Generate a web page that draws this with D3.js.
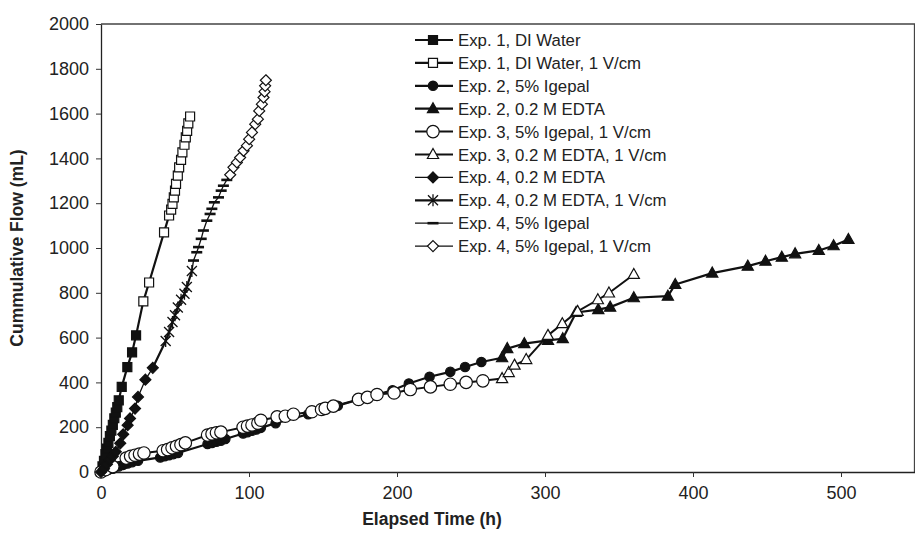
<!DOCTYPE html>
<html>
<head>
<meta charset="utf-8">
<script src="https://cdn.jsdelivr.net/npm/d3@7"></script>
<style>
  body { margin: 0; background: #fff; }
  svg { display: block; font-family: "Liberation Sans", Arial, sans-serif; }
</style>
</head>
<body>
<svg id="chart" width="915" height="538"></svg>
<script>
// values: [hours, mL]
const exp1Water = [[0,0],[1,25],[2,50],[3,80],[4,105],[5,130],[6,160],[7,185],[8,210],[9,240],[10,265],[11,290],[12,320],[14,380],[17.8,468],[21,534],[23.7,610]];
const exp1Water1V = [[28.6,762],[32.5,846],[42.6,1070],[46,1145],[47.4,1171],[48.3,1197],[49.2,1226],[50,1256],[50.7,1286],[51.9,1323],[52.8,1360],[54.1,1393],[55,1427],[56.4,1461],[57.3,1494],[58.2,1523],[59,1556],[60.2,1587]];
const exp2Igepal = [[0,0],[2,5],[5,10],[8,15],[12,25],[15,32],[18,38],[21,44],[25,50],[40,65],[43,70],[46,75],[49,80],[52,85],[72,125],[75,130],[78,135],[81,140],[84,147],[96,172],[99,178],[102,184],[105,190],[108,197],[118,218],[140,258],[150,278],[160,296],[175,325],[185,343],[197,365],[208,395],[222,425],[236,447],[246,469],[257,491]];
const exp2Edta = [[271,510],[274.5,551],[286,573],[302,588],[312,595],[321,712],[336,725],[344,736],[360,778],[383,785],[388,837],[413,888],[437,919],[449,941],[460,959],[469,974],[485,989],[495,1010],[505,1038]];
const exp3Igepal1V = [[0,0],[3,10],[8,24],[17,62],[20,70],[23,75],[26,80],[29,85],[42,95],[45,100],[48,108],[51,115],[54,122],[57,130],[72,165],[75,170],[78,175],[81,178],[96,200],[99,205],[102,210],[106,218],[108,231],[119,246],[124.5,249],[130,258],[142.5,269],[149,279],[151.5,284],[157,294],[174,324],[180,333],[186.5,346],[198,353],[209,368],[222.6,380],[236,392],[246.7,400],[258,407]];
const exp3Edta1V = [[271,417],[275.5,444],[279.4,477],[287.3,502],[302,610],[311.7,662],[322,717],[335.7,769],[343.2,799],[360,882]];
const exp4Edta = [[0,0],[2,15],[4,35],[6,55],[8,70],[10,90],[13,128],[15,168],[18,209],[19.6,239],[23,283],[25,335],[30,412],[35,465]];
const exp4Edta1V = [[43.7,585],[46,625],[48.3,670],[50,700],[51.9,734],[54.1,769],[56.4,796],[58,826],[61.4,897]];
const exp4Igepal = [[62.5,944],[64.7,981],[65.9,1004],[67.7,1041],[69.2,1078],[71.5,1122],[73.7,1152],[74.9,1175],[76.6,1204],[79.4,1226],[81.2,1256],[82.7,1278],[85,1304]];
const exp4Igepal1V = [[87.3,1327],[89.5,1360],[91.8,1382],[94,1404],[96.3,1434],[98.6,1457],[100.1,1486],[102,1516],[104.2,1553],[106,1575],[106.9,1612],[108.7,1642],[109.8,1672],[110.5,1698],[110.9,1724],[111.4,1749]];

const xTicks = [0, 100, 200, 300, 400, 500];
const yTicks = [0, 200, 400, 600, 800, 1000, 1200, 1400, 1600, 1800, 2000];

// legend order, with the series each line continues from
const series = [
  { name: "Exp. 1, DI Water", data: exp1Water, marker: "square", fill: "#111", lw: 2.2 },
  { name: "Exp. 1, DI Water, 1 V/cm", data: exp1Water1V, from: exp1Water, marker: "square", fill: "#fff", lw: 2.2 },
  { name: "Exp. 2, 5% Igepal", data: exp2Igepal, marker: "circle", fill: "#111", lw: 2.2 },
  { name: "Exp. 2, 0.2 M EDTA", data: exp2Edta, from: exp2Igepal, marker: "triangle", fill: "#111", lw: 2.2 },
  { name: "Exp. 3, 5% Igepal, 1 V/cm", data: exp3Igepal1V, marker: "circle", fill: "#fff", lw: 2 },
  { name: "Exp. 3, 0.2 M EDTA, 1 V/cm", data: exp3Edta1V, from: exp3Igepal1V, marker: "triangle", fill: "#fff", lw: 2 },
  { name: "Exp. 4, 0.2 M EDTA", data: exp4Edta, marker: "diamond", fill: "#111", lw: 1.3 },
  { name: "Exp. 4, 0.2 M EDTA, 1 V/cm", data: exp4Edta1V, from: exp4Edta, marker: "asterisk", fill: "none", lw: 2.2 },
  { name: "Exp. 4, 5% Igepal", data: exp4Igepal, from: exp4Edta1V, marker: "dash", fill: "none", lw: 1.3 },
  { name: "Exp. 4, 5% Igepal, 1 V/cm", data: exp4Igepal1V, from: exp4Igepal, marker: "diamond", fill: "#fff", lw: 1.3 }
];

const ink = "#111";
const svg = d3.select("#chart");
const x = d3.scaleLinear().domain([0, 550]).range([101, 915]);
const y = d3.scaleLinear().domain([0, 2000]).range([472, 24]);

function markerPath(type) {
  switch (type) {
    case "square": return "M-4.5,-4.5H4.5V4.5H-4.5Z";
    case "triangle": return "M0,-6L5.6,4L-5.6,4Z";
    case "diamond": return "M0,-5.5L5.5,0L0,5.5L-5.5,0Z";
    case "asterisk": return "M-5,-5L5,5M-5,5L5,-5M0,-6V6";
    case "dash": return "M-5.5,0H5.5";
  }
}

function drawMarker(g, s, px, py) {
  if (s.marker === "circle") {
    const r = s.fill === "#fff" ? 6.2 : 4.7;
    g.append("circle").attr("cx", px).attr("cy", py).attr("r", r)
      .attr("fill", s.fill).attr("stroke", ink).attr("stroke-width", 1.2);
  } else {
    const p = g.append("path").attr("d", markerPath(s.marker))
      .attr("transform", `translate(${px},${py})`)
      .attr("fill", s.fill).attr("stroke", ink);
    if (s.marker === "dash") p.attr("stroke-width", 2.6);
    else if (s.marker === "asterisk") p.attr("stroke-width", 1.3);
    else p.attr("stroke-width", 1.2);
  }
}

// frame
svg.append("path")
  .attr("d", `M${x(0)},${y(2000)}H914.5V${y(0)}`)
  .attr("fill", "none").attr("stroke", "#444").attr("stroke-width", 1.3);

// axes
const xAxis = svg.append("g").attr("transform", `translate(0,${y(0)})`)
  .call(d3.axisBottom(x).tickValues(xTicks).tickFormat(d3.format("d"))
    .tickSize(5).tickSizeOuter(0).tickPadding(6));
const yAxis = svg.append("g").attr("transform", `translate(${x(0)},0)`)
  .call(d3.axisLeft(y).tickValues(yTicks).tickFormat(d3.format("d"))
    .tickSize(5).tickSizeOuter(0).tickPadding(7));
[xAxis, yAxis].forEach(a => {
  a.select(".domain").attr("stroke", "#222").attr("stroke-width", 1.3);
  a.selectAll(".tick line").attr("stroke", "#333");
  a.selectAll(".tick text").attr("fill", "#222").style("font-size", "18px")
    .style("font-family", '"Liberation Sans", Arial, sans-serif');
});
xAxis.selectAll(".tick text").attr("dy", "0.9em");

svg.append("text").attr("x", 432).attr("y", 525)
  .attr("text-anchor", "middle").attr("font-weight", "bold").attr("font-size", 17.5)
  .attr("fill", "#222").text("Elapsed Time (h)");
svg.append("text").attr("transform", `translate(23,${(y(0) + y(2000)) / 2}) rotate(-90)`)
  .attr("text-anchor", "middle").attr("font-weight", "bold").attr("font-size", 17.5)
  .attr("fill", "#222").text("Cummulative Flow (mL)");

// series, drawn so earlier legend entries sit on top where they meet
const drawOrder = [1, 0, 3, 5, 2, 4, 8, 9, 7, 6];
const line = d3.line().x(d => x(d[0])).y(d => y(d[1]));
drawOrder.forEach(i => {
  const s = series[i];
  const g = svg.append("g");
  const pts = s.from ? [s.from[s.from.length - 1]].concat(s.data) : s.data;
  g.append("path").attr("d", line(pts)).attr("fill", "none")
    .attr("stroke", ink).attr("stroke-width", s.lw).attr("stroke-linejoin", "round");
  s.data.forEach(d => drawMarker(g, s, x(d[0]), y(d[1])));
});

// legend
const legend = svg.append("g").attr("transform", "translate(415,40)");
series.forEach((s, i) => {
  const row = legend.append("g").attr("transform", `translate(0,${i * 22.9})`);
  row.append("line").attr("x1", 0).attr("x2", 38).attr("y1", 0).attr("y2", 0)
    .attr("stroke", ink).attr("stroke-width", s.lw);
  drawMarker(row, s, 18, 0);
  row.append("text").attr("x", 43).attr("y", 0).attr("dy", "0.36em")
    .attr("font-size", 16.8).attr("fill", "#222").text(s.name);
});
</script>
</body>
</html>
